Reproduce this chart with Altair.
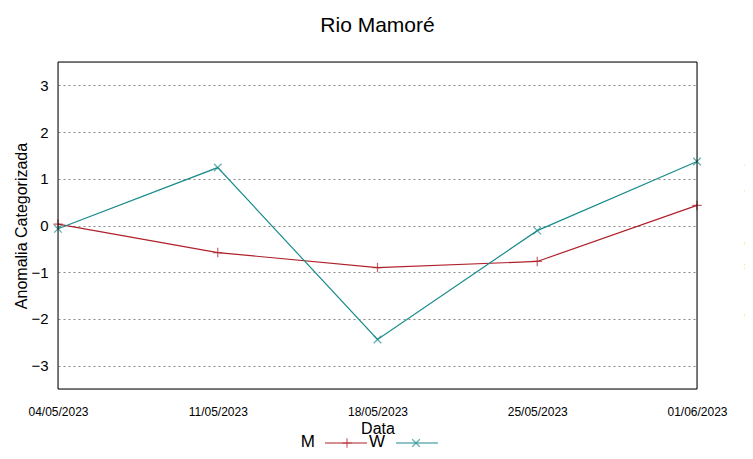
import altair as alt
import pandas as pd

dates = ["2023-05-04", "2023-05-11", "2023-05-18", "2023-05-25", "2023-06-01"]
m_values = [0.03, -0.58, -0.90, -0.77, 0.43]
w_values = [-0.07, 1.24, -2.44, -0.11, 1.37]
series_names = ["M", "W"]
colors = ["#b0202a", "#1a8c8c"]
y_ticks = [-3, -2, -1, 0, 1, 2, 3]

df = pd.DataFrame({
    "Data": dates * 2,
    "value": m_values + w_values,
    "serie": ["M"] * len(dates) + ["W"] * len(dates),
})

W, H = 639, 327
FONT = "Liberation Sans"
PLUS = "M-1,0L1,0M0,-1L0,1"
CROSS = "M-0.8,-0.8L0.8,0.8M-0.8,0.8L0.8,-0.8"

xdates = [alt.DateTime(year=2023, month=5, date=d, utc=True) for d in (4, 11, 18, 25)] + [
    alt.DateTime(year=2023, month=6, date=1, utc=True)]

x_enc = alt.X("Data:T",
              scale=alt.Scale(type="utc", domain=[xdates[0], xdates[-1]], nice=False),
              axis=alt.Axis(values=xdates, format="%d/%m/%Y", title="Data", grid=False,
                            ticks=False, domain=False, labelFont=FONT, labelFontSize=12,
                            labelFontWeight="normal",
                            labelPadding=17, labelColor="#000", titleFont=FONT,
                            titleFontSize=16, titleFontWeight="normal", titlePadding=3,
                            titleColor="#000", labelFlush=False))
y_enc = alt.Y("value:Q",
              scale=alt.Scale(domain=[-3.5, 3.5], nice=False, zero=False),
              axis=alt.Axis(values=y_ticks, title="Anomalia Categorizada", grid=True,
                            gridDash=[2, 3], gridColor="#888", gridWidth=1,
                            ticks=False, domain=False, labelFont=FONT, labelFontSize=15,
                            labelPadding=10, labelColor="#000", titleFont=FONT,
                            titleFontSize=16, titleFontWeight="normal", titlePadding=1,
                            titleColor="#000"))
color_enc = alt.Color("serie:N", scale=alt.Scale(domain=series_names, range=colors), legend=None)

base = alt.Chart(df)
lines = base.mark_line(strokeWidth=1.2).encode(x=x_enc, y=y_enc, color=color_enc)
pts_m = base.transform_filter(alt.datum.serie == "M").mark_point(
    shape=PLUS, size=90, filled=False, strokeWidth=1.2).encode(x=x_enc, y=y_enc, color=color_enc)
pts_w = base.transform_filter(alt.datum.serie == "W").mark_point(
    shape=CROSS, size=90, filled=False, strokeWidth=1.2).encode(x=x_enc, y=y_enc, color=color_enc)

# frame (gnuplot border) drawn as rules around the plot area
frame = [
    alt.Chart().mark_rule(color="#000", strokeWidth=1).encode(
        x=alt.value(0), x2=alt.value(W), y=alt.value(0)),
    alt.Chart().mark_rule(color="#000", strokeWidth=1).encode(
        x=alt.value(0), x2=alt.value(W), y=alt.value(H)),
    alt.Chart().mark_rule(color="#000", strokeWidth=1).encode(
        x=alt.value(0), y=alt.value(0), y2=alt.value(H)),
    alt.Chart().mark_rule(color="#000", strokeWidth=1).encode(
        x=alt.value(W), y=alt.value(0), y2=alt.value(H)),
]

# manual gnuplot-style key below the axis title
leg_y = 381
key_m_txt = alt.Chart().mark_text(text="M", align="right", baseline="middle", font=FONT,
                                  fontSize=17, fontWeight="normal", color="#000").encode(
    x=alt.value(257), y=alt.value(leg_y - 1))
key_m_line = alt.Chart().mark_rule(color=colors[0], strokeWidth=1.2).encode(
    x=alt.value(267), x2=alt.value(309), y=alt.value(leg_y))
key_m_pt = alt.Chart().mark_point(shape=PLUS, size=90, filled=False, color=colors[0],
                                  strokeWidth=1.2).encode(x=alt.value(289), y=alt.value(leg_y))
key_w_txt = alt.Chart().mark_text(text="W", align="right", baseline="middle", font=FONT,
                                  fontSize=17, fontWeight="normal", color="#000").encode(
    x=alt.value(327), y=alt.value(leg_y - 1))
key_w_line = alt.Chart().mark_rule(color=colors[1], strokeWidth=1.2).encode(
    x=alt.value(338), x2=alt.value(380), y=alt.value(leg_y))
key_w_pt = alt.Chart().mark_point(shape=CROSS, size=90, filled=False, color=colors[1],
                                  strokeWidth=1.2).encode(x=alt.value(358), y=alt.value(leg_y))
# clipped neighbouring panel's y title at the right edge
side_txt = alt.Chart().mark_text(text="Anomalia Categorizada", angle=270, align="center",
                                 baseline="middle", font=FONT, fontSize=16,
                                 color="#000").encode(x=alt.value(W + 55), y=alt.value(H / 2 + 12))

chart = alt.layer(lines, pts_m, pts_w, *frame, key_m_txt, key_m_line, key_m_pt,
                  key_w_txt, key_w_line, key_w_pt, side_txt).properties(
    width=W, height=H,
    title=alt.TitleParams("Rio Mamoré", font=FONT, fontSize=21, fontWeight="normal",
                          color="#000", anchor="middle", offset=26),
    autosize=alt.AutoSizeParams(type="none"),
    padding={"left": 50, "top": 54, "right": 48, "bottom": 61},
).configure_view(stroke=None).configure(background="white")

chart.save("out.html", embed_options={"renderer": "svg", "actions": False})
